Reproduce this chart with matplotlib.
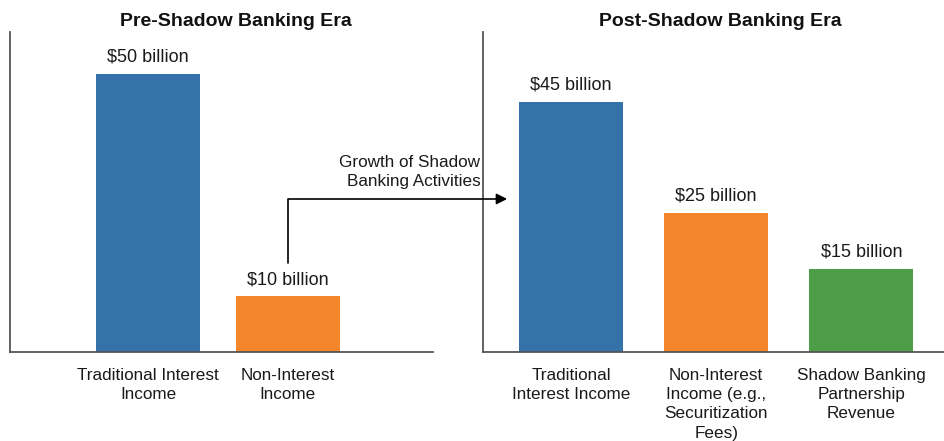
import matplotlib.pyplot as plt

plt.rcParams['font.family'] = ['Liberation Sans', 'DejaVu Sans']

pre_categories = ["Traditional Interest\nIncome", "Non-Interest\nIncome"]
pre_values = [50, 10]
pre_colors = ["#3672aa", "#f3862a"]

post_categories = ["Traditional\nInterest Income",
                   "Non-Interest\nIncome (e.g.,\nSecuritization\nFees)",
                   "Shadow Banking\nPartnership\nRevenue"]
post_values = [45, 25, 15]
post_colors = ["#3672aa", "#f3862a", "#4e9e47"]

value_fmt = "${} billion"
text_color = "#1a1a1a"
spine_color = "#555555"

fig = plt.figure(figsize=(9.44, 4.41), dpi=100)
ax_pre = fig.add_axes([10 / 944, 89 / 441, 423 / 944, 320 / 441])
ax_post = fig.add_axes([483 / 944, 89 / 441, 461 / 944, 320 / 441])


def draw_panel(ax, cats, vals, colors, width, xlim, title, title_x):
    xs = list(range(len(cats)))
    bars = ax.bar(xs, vals, width=width, color=colors)
    for b, v in zip(bars, vals):
        ax.annotate(value_fmt.format(v), (b.get_x() + b.get_width() / 2, v),
                    xytext=(0, 6), textcoords="offset points",
                    ha="center", va="bottom", fontsize=13, color=text_color)
    ax.set_xticks(xs)
    ax.set_xticklabels(cats, fontsize=12.3, color=text_color, linespacing=1.35)
    ax.tick_params(axis="x", length=0, pad=11.5)
    ax.set_yticks([])
    ax.set_xlim(*xlim)
    ax.set_ylim(0, 57.5)
    for s in ["top", "right"]:
        ax.spines[s].set_visible(False)
    for s in ["left", "bottom"]:
        ax.spines[s].set_color(spine_color)
        ax.spines[s].set_linewidth(1.3)
    ax.set_title(title, x=title_x, pad=4, fontsize=14, fontweight="bold",
                 color="#111111")


draw_panel(ax_pre, pre_categories, pre_values, pre_colors, 0.745,
           (-0.99, 2.04), "Pre-Shadow Banking Era", 0.534)
draw_panel(ax_post, post_categories, post_values, post_colors, 0.717,
           (-0.607, 2.57), "Post-Shadow Banking Era", 0.514)

# elbow arrow linking the two eras
ax_post.annotate("", xy=(-0.44, 27.5), xycoords=ax_post.transData,
                 xytext=(1, 16), textcoords=ax_pre.transData,
                 arrowprops=dict(arrowstyle="-|>", color="black", lw=1.2,
                                 mutation_scale=16, shrinkA=0, shrinkB=0,
                                 connectionstyle="angle,angleA=90,angleB=0,rad=0"),
                 annotation_clip=False, zorder=5)
ax_pre.text(2.38, 29.3, "Growth of Shadow\nBanking Activities", ha="right",
            va="bottom", multialignment="right", fontsize=12.3,
            color=text_color, linespacing=1.35, clip_on=False)

fig.savefig("out.png", dpi=100)
